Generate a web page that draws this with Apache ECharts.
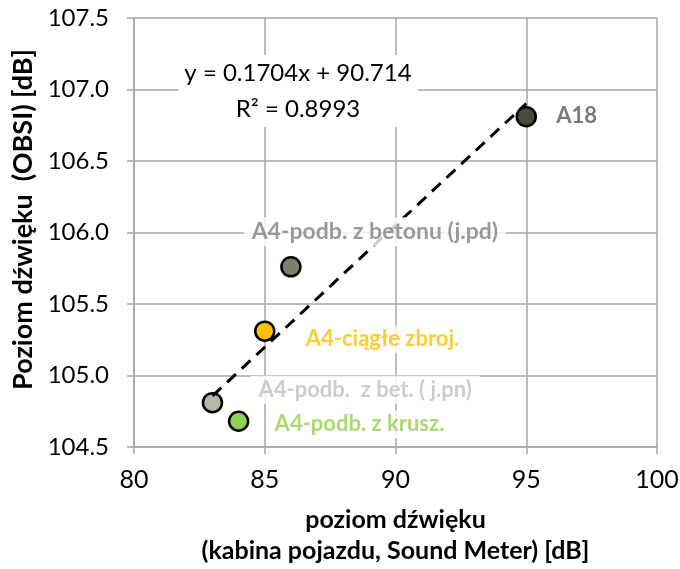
<!DOCTYPE html>
<html>
<head>
<meta charset="utf-8">
<script src="https://cdn.jsdelivr.net/npm/echarts@6/dist/echarts.min.js"></script>
<style>
html,body{margin:0;padding:0;background:#fff;}
#chart{width:680px;height:569px;}
</style>
</head>
<body>
<div id="chart"></div>
<script>
// ---- data ----
const names = ['A18', 'A4-podb. z betonu (j.pd)', 'A4-ciągłe zbroj.', 'A4-podb.  z bet. ( j.pn)', 'A4-podb. z krusz.'];
const xValues = [95, 86, 85, 83, 84];
const yValues = [106.81, 105.76, 105.31, 104.81, 104.68];
const markerColors = ['#4b4b3c', '#7f7f69', '#ffc000', '#b7b7a7', '#92d050'];
const labelColors = ['#595959', '#808080', '#ffc000', '#bfbfbf', '#92d050'];
const slope = 0.1704;
const intercept = 90.714;
const r2 = 0.8993;
const xTicks = [80, 85, 90, 95, 100];
const yTicks = [104.5, 105.0, 105.5, 106.0, 106.5, 107.0, 107.5];

// label placement (style only)
const labelOffsets = [[22, -1], [84, -35], [33, 8], [38, -13], [28, 3]];
const labelAlign = ['left', 'center', 'left', 'left', 'left'];

const FONT = 'Lato, "Open Sans", sans-serif';
const grey = '#a6a6a6';

const pointData = xValues.map((x, i) => ({
  value: [x, yValues[i]],
  name: names[i],
  itemStyle: { color: markerColors[i] }
}));

const labelData = xValues.map((x, i) => ({
  value: [x, yValues[i]],
  name: names[i],
  label: {
    show: true,
    formatter: names[i],
    position: 'inside',
    align: labelAlign[i],
    verticalAlign: 'middle',
    offset: labelOffsets[i],
    color: labelColors[i],
    fontFamily: FONT,
    fontWeight: 'bold',
    fontSize: i === 1 ? 23 : 22,
    backgroundColor: '#ffffff',
    padding: [3, 8]
  }
}));

const xMin = Math.min(...xValues), xMax = Math.max(...xValues);
const trend = [[xMin, slope * xMin + intercept], [xMax, slope * xMax + intercept]];

const chart = echarts.init(document.getElementById('chart'), null, { renderer: 'canvas' });
chart.setOption({
  animation: false,
  backgroundColor: '#ffffff',
  grid: { left: 134, right: 23, top: 18, bottom: 122, containLabel: false, outerBoundsMode: 'none' },
  xAxis: {
    type: 'value', min: xTicks[0], max: xTicks[xTicks.length - 1], interval: 5,
    axisLine: { show: true, lineStyle: { color: grey, width: 1.5 } },
    axisTick: { show: true, length: 7, lineStyle: { color: grey, width: 1.5 } },
    splitLine: { show: true, lineStyle: { color: grey, width: 1.5 } },
    axisLabel: { color: '#000', fontFamily: FONT, fontSize: 25, margin: 20 },
    name: 'poziom dźwięku\n(kabina pojazdu, Sound Meter) [dB]',
    nameLocation: 'middle', nameGap: 57,
    nameTextStyle: { color: '#000', fontFamily: FONT, fontWeight: 'bold', fontSize: 25, lineHeight: 31 }
  },
  yAxis: {
    type: 'value', min: yTicks[0], max: yTicks[yTicks.length - 1], interval: 0.5,
    axisLine: { show: true, lineStyle: { color: grey, width: 1.5 } },
    axisTick: { show: true, length: 7, lineStyle: { color: grey, width: 1.5 } },
    splitLine: { show: true, lineStyle: { color: grey, width: 1.5 } },
    axisLabel: { color: '#000', fontFamily: FONT, fontSize: 24, margin: 25, formatter: v => v.toFixed(1) },
    name: 'Poziom dźwięku  (OBSI) [dB]',
    nameLocation: 'middle', nameGap: 96, nameRotate: 90,
    nameTextStyle: { color: '#000', fontFamily: FONT, fontWeight: 'bold', fontSize: 27, padding: [0, 0, 0, 26] }
  },
  series: [
    {
      type: 'scatter', data: pointData, symbol: 'circle', symbolSize: 19, z: 3,
      itemStyle: { borderColor: '#000', borderWidth: 2.5, opacity: 1 }
    },
    {
      type: 'line', data: trend, symbol: 'none', z: 4, silent: true,
      lineStyle: { color: '#000', width: 3, type: [12, 8] }
    },
    {
      type: 'scatter', data: labelData, symbol: 'circle', symbolSize: 1, zlevel: 1, z: 5, silent: true,
      itemStyle: { color: 'rgba(0,0,0,0)' }
    }
  ],
  graphic: [
    {
      type: 'text', x: 298, y: 91, z: 10,
      style: {
        text: 'y = ' + slope + 'x + ' + intercept + '\nR² = ' + r2,
        align: 'center', textAlign: 'center', verticalAlign: 'middle',
        fill: '#000', fontFamily: FONT, fontSize: 24, lineHeight: 36,
        backgroundColor: '#fff', padding: [0, 6]
      }
    }
  ]
});
</script>
</body>
</html>
